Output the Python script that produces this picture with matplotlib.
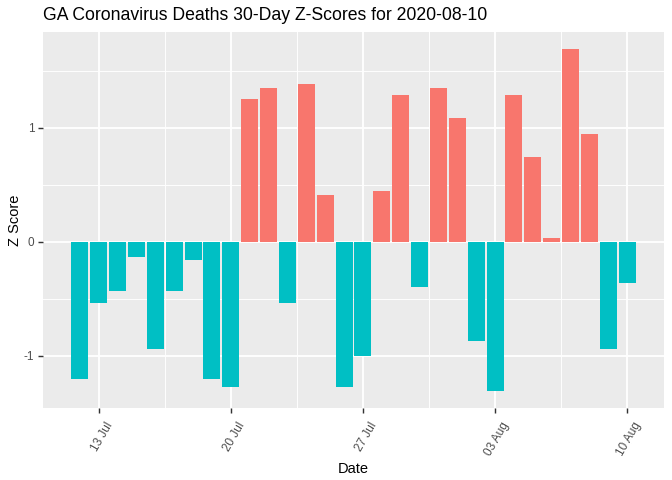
import numpy as np
import pandas as pd
import matplotlib
matplotlib.use("Agg")
import matplotlib.pyplot as plt
import matplotlib.dates as mdates
from matplotlib.transforms import ScaledTranslation

plt.rcParams["font.family"] = ["Liberation Sans", "DejaVu Sans"]

# ---- data ----
start_date = "2020-07-12"
end_date = "2020-08-10"
z_scores = [-1.204, -0.539, -0.434, -0.137, -0.942, -0.434, -0.163, -1.204, -1.274,
            1.249, 1.346, -0.539, 1.384, 0.408, -1.274, -1.003, 0.440, 1.284,
            -0.399, 1.346, 1.082, -0.872, -1.309, 1.284, 0.739, 0.035, 1.689,
            0.941, -0.942, -0.364]
tick_dates = ["2020-07-13", "2020-07-20", "2020-07-27", "2020-08-03", "2020-08-10"]
tick_labels = ["13 Jul", "20 Jul", "27 Jul", "03 Aug", "10 Aug"]
y_ticks = [-1, 0, 1]
y_tick_labels = ["-1", "0", "1"]
title = "GA Coronavirus Deaths 30-Day Z-Scores for 2020-08-10"
x_label = "Date"
y_label = "Z Score"

dates = pd.date_range(start_date, end_date, freq="D")
vals = np.array(z_scores)
pos_color = "#F8766D"
neg_color = "#00BFC4"
colors = [pos_color if v > 0 else neg_color for v in vals]

S = 0.96  # ggplot at 96 dpi -> matplotlib 100 dpi

fig = plt.figure(figsize=(6.72, 4.8), dpi=100)
W, H = 672, 480
left, right, top, bottom = 43, 664, 32, 408
ax = fig.add_axes([left / W, 1 - bottom / H, (right - left) / W, (bottom - top) / H])
ax.set_facecolor("#EBEBEB")
for s in ax.spines.values():
    s.set_visible(False)

xnum = mdates.date2num(dates)
ax.bar(xnum, vals, width=0.9, color=colors, zorder=3)

# limits with ggplot 5% expansion
xmin, xmax = xnum.min() - 0.45, xnum.max() + 0.45
dx = (xmax - xmin) * 0.05
ax.set_xlim(xmin - dx, xmax + dx)
ymin, ymax = min(vals.min(), 0), max(vals.max(), 0)
dy = (ymax - ymin) * 0.05
ax.set_ylim(ymin - dy, ymax + dy)

tnum = mdates.date2num(pd.to_datetime(tick_dates))
ax.set_xticks(tnum)
ax.set_xticklabels(tick_labels)
ax.set_xticks((tnum[:-1] + tnum[1:]) / 2, minor=True)
ax.set_yticks(y_ticks)
ax.set_yticklabels(y_tick_labels)
ax.set_yticks([-0.5, 0.5, 1.5], minor=True)

ax.grid(which="major", color="white", linewidth=1.42 * S, zorder=1)
ax.grid(which="minor", color="white", linewidth=0.71 * S, zorder=1)
ax.set_axisbelow(True)

ax.tick_params(which="major", length=2.75 * S * 1.333, width=1.07 * S, color="#333333",
               labelsize=8.8 * S, labelcolor="#4D4D4D", pad=2.2 * S * 1.333)
ax.tick_params(which="minor", length=0)

for lab in ax.get_xticklabels():
    lab.set_rotation(60)
    lab.set_ha("right")
    lab.set_va("top")
    lab.set_rotation_mode("anchor")
    lab.set_transform(lab.get_transform() + ScaledTranslation(6 / 100, -3 / 100, fig.dpi_scale_trans))

ax.set_xlabel(x_label, fontsize=11 * S, color="black", labelpad=3)
ax.set_ylabel(y_label, fontsize=11 * S, color="black", labelpad=1)
fig.text(left / W, 1 - 15 / H, title, fontsize=13.2 * S, ha="left", va="center", color="black")

fig.savefig("out.png", dpi=100)
